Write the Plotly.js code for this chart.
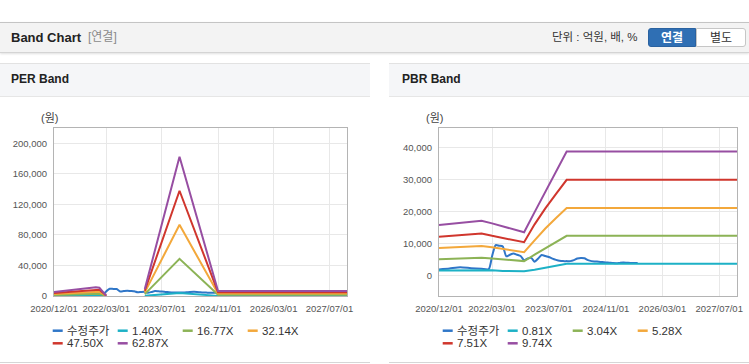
<!DOCTYPE html>
<html>
<head>
<meta charset="utf-8">
<script src="https://cdn.plot.ly/plotly-3.0.1.min.js"></script>
<style>
  html, body { margin:0; padding:0; background:#ffffff; width:749px; height:364px; overflow:hidden;
    font-family: "Liberation Sans", Arial, "Noto Sans CJK KR", sans-serif; }
  .abs { position:absolute; }
  #bar { left:0; top:22px; width:749px; height:29px; background:#f3f3f3;
    border-top:1px solid #c4c4c4; border-bottom:1px solid #d4d4d4; box-shadow:0 1px 2px rgba(0,0,0,0.12); }
  #barTitle { left:11px; top:0; line-height:29px; font-size:13px; font-weight:bold; color:#222; }
  #barSub { left:88px; top:0; line-height:29px; font-size:12px; color:#8a8a8a; }
  #unit { left:552px; top:0; line-height:29px; font-size:11.5px; color:#333; }
  .btn { top:5px; height:19px; width:48px; line-height:19px; text-align:center; font-size:12px; box-sizing:border-box; }
  #btn1 { left:648px; background:#2f6fb4; color:#fff; font-weight:bold; border:1px solid #2a62a0; border-radius:3px 0 0 3px; }
  #btn2 { left:696px; width:50px; background:#fff; color:#333; border:1px solid #c6c6c6; border-radius:0 3px 3px 0; }
  .panel { top:63px; height:299px; background:#fff; border-bottom:1px solid #d6d6d6; }
  .phead { left:0; top:0; height:32px; background:#f5f6f8; border-top:1px solid #e2e2e2; border-bottom:1px solid #e6e6e6; }
  .ptitle { left:11px; top:0; line-height:31px; font-size:12px; font-weight:bold; color:#222; }
</style>
</head>
<body>
<div id="bar" class="abs">
  <div id="barTitle" class="abs">Band Chart</div>
  <div id="barSub" class="abs">[연결]</div>
  <div id="unit" class="abs">단위 : 억원, 배, %</div>
  <div id="btn1" class="abs btn">연결</div>
  <div id="btn2" class="abs btn">별도</div>
</div>
<div class="abs panel" style="left:0;width:370px;">
  <div class="abs phead" style="width:370px;"><div class="abs ptitle">PER Band</div></div>
</div>
<div class="abs panel" style="left:389px;width:360px;">
  <div class="abs phead" style="width:360px;"><div class="abs ptitle" style="left:13px;">PBR Band</div></div>
</div>
<div id="perChart" class="abs" style="left:0;top:96px;width:370px;height:266px;"></div>
<div id="pbrChart" class="abs" style="left:389px;top:96px;width:360px;height:266px;"></div>

<script>
// ---------------- data ----------------
const xTickVals = ['2020-12-01','2022-03-01','2023-07-01','2024-11-01','2026-03-01','2027-07-01'];
const xTickText = ['2020/12/01','2022/03/01','2023/07/01','2024/11/01','2026/03/01','2027/07/01'];

const priceDates = ['2020-12-01','2021-03-01','2021-06-01','2021-09-01','2021-12-01','2022-02-01','2022-03-01','2022-04-01',
  '2022-05-01','2022-06-01','2022-07-01','2022-08-01','2022-09-01','2022-10-01','2022-11-01','2022-12-01',
  '2023-01-01','2023-02-01','2023-03-01','2023-04-01','2023-05-01','2023-06-01','2023-07-01','2023-08-01',
  '2023-09-01','2023-10-01','2023-11-01','2023-12-01','2024-01-01','2024-02-01','2024-03-01','2024-04-01',
  '2024-05-01','2024-06-01','2024-07-01','2024-08-01','2024-09-01','2024-10-01','2024-11-01','2024-12-01',
  '2025-01-01','2025-02-01','2025-03-01','2025-04-01','2025-05-01','2025-06-01','2025-07-01','2025-08-01'];
const price = [1900,2200,2600,2300,2100,2000,6000,9500,
  9300,9100,6000,6500,6900,6500,6100,4800,
  5300,5500,4300,5300,6400,6100,5800,5300,
  4900,4600,4500,4500,4500,4800,5300,5500,
  5400,4800,4500,4400,4300,4200,4100,4000,
  3900,3850,3950,4050,4000,3950,3950,3950];

const perDates = ['2020-12-01','2021-03-01','2021-06-01','2021-09-01','2021-12-01','2022-01-01','2022-02-01','2022-03-01',
  '2022-04-01','2023-02-01','2023-12-01','2024-11-01','2027-12-01'];
const per140  = [120, 150, 180, 210, 250, 240, 130, 15, null, 200, 4060, 140, 140];
const per1677 = [1400, 1800, 2100, 2600, 3000, 2900, 1500, 160, null, 2400, 48700, 1700, 1700];
const per3214 = [2700, 3400, 4100, 4900, 5800, 5500, 3000, 300, null, 4700, 93200, 3270, 3270];
const per4750 = [3900, 5000, 6000, 7300, 8600, 8200, 4400, 450, null, 6900, 137800, 4850, 4850];
const per6287 = [5200, 6600, 8000, 9600, 11400, 10800, 5800, 600, null, 9100, 182400, 6400, 6400];

const pbrDates = ['2020-12-01','2021-03-01','2021-06-01','2021-09-01','2021-12-01','2022-03-01','2022-06-01','2022-09-01',
  '2022-12-01','2023-03-01','2023-06-01','2023-09-01','2023-12-01','2027-12-01'];
const pbr081 = [1600, 1650, 1700, 1750, 1800, 1650, 1450, 1350, 1350, 1800, 2400, 3000, 3700, 3700];
const pbr304 = [5100, 5200, 5400, 5500, 5550, 5300, 5000, 4700, 4500, 6500, 8500, 10500, 12400, 12400];
const pbr528 = [8600, 8800, 9000, 9200, 9250, 8800, 8300, 7800, 7300, 11000, 14700, 18000, 21100, 21100];
const pbr751 = [12100, 12400, 12700, 13000, 13150, 12400, 11700, 11000, 10400, 16000, 21000, 25500, 29900, 29900];
const pbr974 = [15770, 16100, 16400, 16900, 17100, 16300, 15400, 14400, 13500, 19800, 26000, 32400, 38750, 38750];

const perNames = ['수정주가','1.40X','16.77X','32.14X','47.50X','62.87X'];
const pbrNames = ['수정주가','0.81X','3.04X','5.28X','7.51X','9.74X'];
const colors = ['#2f76c8','#1db1c6','#8cb356','#f3a83b','#d0362d','#974ea2'];

// ---------------- drawing ----------------
const FONT = '"Liberation Sans", Arial, "Noto Sans CJK KR", sans-serif';

function build(divId, W, H, m, yRange, dtick, names, bandDates, bands, legendCols) {
  const plotW = W - m.l - m.r, plotH = H - m.t - m.b;
  const px2x = px => (px - m.l) / plotW;
  const py2y = py => (H - m.b - py) / plotH;

  const traces = [];
  // bands drawn first (cyan .. purple), price drawn last on top? keep band order so purple on top
  const order = [1,2,3,4,5];
  order.forEach(i => {
    traces.push({ x: bandDates, y: bands[i-1], type:'scatter', mode:'lines', name: names[i],
      line:{ color: colors[i], width:2 }, connectgaps:false, hoverinfo:'skip', showlegend:false });
  });
  traces.unshift({ x: priceDates, y: price, type:'scatter', mode:'lines', name: names[0],
      line:{ color: colors[0], width:2, shape:'spline', smoothing:0.6 }, hoverinfo:'skip', showlegend:false });

  const shapes = [], annotations = [];
  annotations.push({ xref:'paper', yref:'paper', x: px2x(legendCols.unitX), y: py2y(22), text:'(원)',
    showarrow:false, xanchor:'center', yanchor:'middle', font:{ family:FONT, size:11, color:'#444' } });
  for (let k = 0; k < 6; k++) {
    const row = Math.floor(k / 4), col = k % 4;
    const sx = legendCols.x0 + col * 65;
    const sy = (row === 0 ? 330.7 : 343.3) - 96;
    shapes.push({ type:'line', xref:'paper', yref:'paper', x0: px2x(sx), x1: px2x(sx + 10),
      y0: py2y(sy), y1: py2y(sy), line:{ color: colors[k], width:2.5 } });
    annotations.push({ xref:'paper', yref:'paper', x: px2x(sx + 12), y: py2y(sy), text: names[k],
      showarrow:false, xanchor:'left', yanchor:'middle', font:{ family:FONT, size:11.5, color:'#333' } });
  }

  const layout = {
    width: W, height: H, margin: m, paper_bgcolor:'rgba(0,0,0,0)', plot_bgcolor:'#ffffff',
    showlegend:false, font:{ family:FONT, size:9.5, color:'#555' },
    xaxis: { type:'date', range:['2020-12-01','2027-12-01'], tickvals: xTickVals, ticktext: xTickText,
      showgrid:true, gridcolor:'#e8e8e8', gridwidth:1, showline:true, linecolor:'#b4b4b4', linewidth:1, mirror:true,
      ticks:'outside', ticklen:4, tickcolor:'rgba(0,0,0,0)', tickfont:{ family:FONT, size:9.5, color:'#555' },
      zeroline:false, fixedrange:true },
    yaxis: { range: yRange, dtick: dtick, tick0: 0, tickformat:',d', showgrid:true, gridcolor:'#e8e8e8', gridwidth:1,
      showline:true, linecolor:'#b4b4b4', linewidth:1, mirror:true, zeroline:true, zerolinecolor:'#e8e8e8', zerolinewidth:1,
      ticks:'outside', ticklen:4, tickcolor:'rgba(0,0,0,0)', tickfont:{ family:FONT, size:9.5, color:'#555' }, fixedrange:true },
    shapes: shapes, annotations: annotations
  };
  Plotly.newPlot(divId, traces, layout, { displayModeBar:false, staticPlot:true });
}

build('perChart', 370, 266, { l:54, r:23, t:32, b:66 }, [0, 220000], 40000, perNames, perDates,
  [per140, per1677, per3214, per4750, per6287], { x0: 52.7, unitX: 49 });
build('pbrChart', 360, 266, { l:50, r:12, t:32, b:66 }, [-6400, 46100], 10000, pbrNames, pbrDates,
  [pbr081, pbr304, pbr528, pbr751, pbr974], { x0: 442.7 - 389, unitX: 434 - 389 });
</script>
</body>
</html>
